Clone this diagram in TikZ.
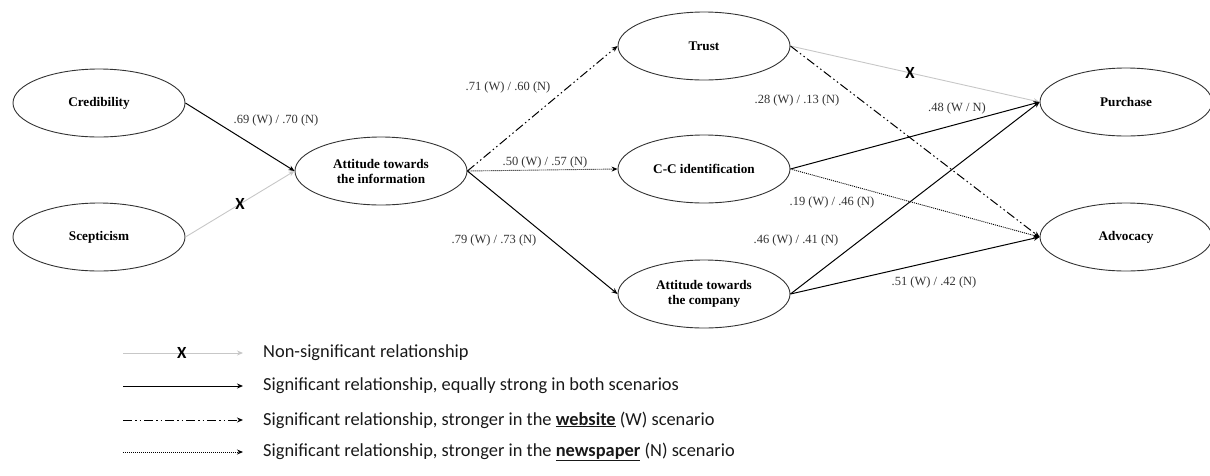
\documentclass[tikz,border=0pt]{standalone}
\usepackage{fontspec}
\setmainfont{Liberation Serif}
\newfontfamily\legfont{Carlito}
\usetikzlibrary{positioning, arrows.meta, shapes.geometric}

\begin{document}
\begin{tikzpicture}[
  x=1pt, y=-1pt,
  latent/.style={draw=black!80, ellipse, line width=0.9pt, minimum width=172pt,
    minimum height=68pt, inner sep=0pt, align=center,
    font=\fontsize{13.2}{15}\selectfont\bfseries},
  coef/.style={font=\fontsize{12.5}{14}\selectfont, text=black!80, inner sep=1pt},
  arr/.style={-{Stealth[length=6pt, width=5pt]}, line width=1pt},
  nsig/.style={arr, draw=black!22, line width=0.9pt},
  web/.style={arr, dash pattern=on 9pt off 3pt on 1.5pt off 3pt on 1.5pt off 3pt},
  news/.style={arr, line width=0.9pt, dash pattern=on 1pt off 1pt},
  xmark/.style={font=\legfont\fontsize{17}{17}\selectfont\bfseries, inner sep=0pt},
  legtext/.style={font=\legfont\fontsize{18.4}{20}\selectfont, text=black!90, anchor=west, inner sep=0pt}
]
  \useasboundingbox (0,0) rectangle (1210,475);

  % constructs
  \node[latent] (cred)  at (99,103)  {Credibility};
  \node[latent] (scep)  at (99,237)  {Scepticism};
  \node[latent] (info)  at (381,171) {Attitude towards\\the information};
  \node[latent] (trust) at (704,46)  {Trust};
  \node[latent] (ccid)  at (704,169) {C-C identification};
  \node[latent] (comp)  at (704,294) {Attitude towards\\the company};
  \node[latent] (purch) at (1126,102) {Purchase};
  \node[latent] (advo)  at (1126,237) {Advocacy};

  % paths
  \draw[arr]  (cred.east) -- (info.west);
  \draw[nsig] (scep.east) -- (info.west) node[xmark, pos=0.5] (x1) {X};
  \draw[web]  (info.east) -- (trust.west);
  \draw[news] (info.east) -- (ccid.west);
  \draw[arr]  (info.east) -- (comp.west);
  \draw[nsig] (trust.east) -- (purch.west) node[xmark, pos=0.48] (x2) {X};
  \draw[web]  (trust.east) -- (advo.west);
  \draw[arr]  (ccid.east) -- (purch.west);
  \draw[news] (ccid.east) -- (advo.west);
  \draw[arr]  (comp.east) -- (purch.west);
  \draw[arr]  (comp.east) -- (advo.west);

  % coefficients
  \node[coef] (c1) at (276,120) {.69 (W) / .70 (N)};
  \node[coef] (c2) at (508,87)  {.71 (W) / .60 (N)};
  \node[coef] (c3) at (545,162) {.50 (W) / .57 (N)};
  \node[coef] (c4) at (494,240) {.79 (W) / .73 (N)};
  \node[coef] (c5) at (797,100) {.28 (W) / .13 (N)};
  \node[coef] (c6) at (957,108) {.48 (W / N)};
  \node[coef] (c7) at (832,202) {.19 (W) / .46 (N)};
  \node[coef] (c8) at (796,240) {.46 (W) / .41 (N)};
  \node[coef] (c9) at (934,282) {.51 (W) / .42 (N)};

  % legend
  \coordinate (k1a) at (123,353); \coordinate (k1b) at (243,353);
  \coordinate (k2a) at (123,386); \coordinate (k2b) at (243,386);
  \coordinate (k3a) at (123,420); \coordinate (k3b) at (243,420);
  \coordinate (k4a) at (123,452); \coordinate (k4b) at (243,452);
  \draw[nsig] (k1a) -- (k1b) node[xmark, pos=0.49] (kx) {X};
  \draw[arr]  (k2a) -- (k2b);
  \draw[web]  (k3a) -- (k3b);
  \draw[news] (k4a) -- (k4b);
  \node[legtext, right=20pt of k1b] (k1) {Non-significant relationship};
  \node[legtext, right=20pt of k2b] (k2) {Significant relationship, equally strong in both scenarios};
  \node[legtext, right=20pt of k3b] (k3) {Significant relationship, stronger in the \underline{\textbf{website}} (W) scenario};
  \node[legtext, right=20pt of k4b] (k4) {Significant relationship, stronger in the \underline{\textbf{newspaper}} (N) scenario};
\end{tikzpicture}
\end{document}
